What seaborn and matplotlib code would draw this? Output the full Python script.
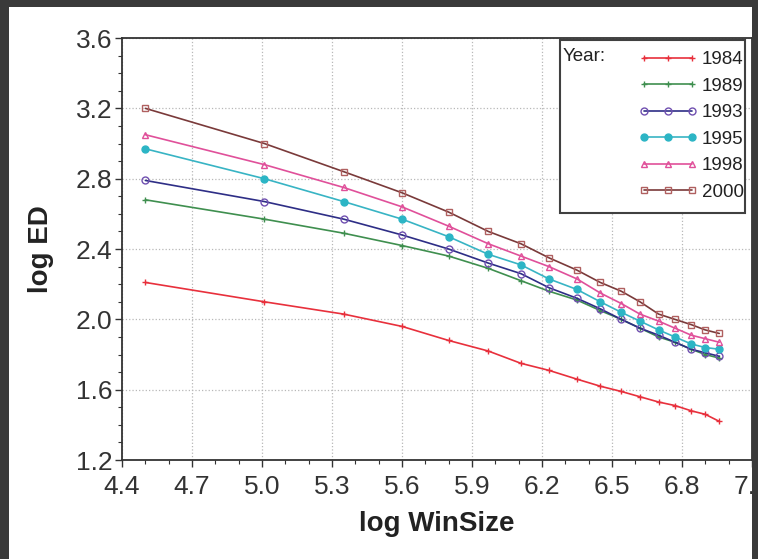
import numpy as np
import pandas as pd
import matplotlib
matplotlib.use("Agg")
import matplotlib.pyplot as plt
from matplotlib.patches import Rectangle
from matplotlib.lines import Line2D
from matplotlib.ticker import MultipleLocator, FormatStrFormatter
import seaborn as sns

sns.set_theme(style="ticks")
plt.rcParams['font.family'] = ['Liberation Sans', 'DejaVu Sans']

# log of window size (x) and log ED per year
log_winsize = [4.50, 5.01, 5.35, 5.60, 5.80, 5.97, 6.11, 6.23, 6.35,
               6.45, 6.54, 6.62, 6.70, 6.77, 6.84, 6.90, 6.96]
years = ["1984", "1989", "1993", "1995", "1998", "2000"]
ed_1984 = [2.21, 2.10, 2.03, 1.96, 1.88, 1.82, 1.75, 1.71, 1.66, 1.62, 1.59, 1.56, 1.53, 1.51, 1.48, 1.46, 1.42]
ed_1989 = [2.68, 2.57, 2.49, 2.42, 2.36, 2.29, 2.22, 2.16, 2.11, 2.05, 2.00, 1.95, 1.90, 1.87, 1.83, 1.80, 1.78]
ed_1993 = [2.79, 2.67, 2.57, 2.48, 2.40, 2.32, 2.26, 2.18, 2.12, 2.06, 2.00, 1.95, 1.91, 1.87, 1.83, 1.81, 1.79]
ed_1995 = [2.97, 2.80, 2.67, 2.57, 2.47, 2.37, 2.31, 2.23, 2.17, 2.10, 2.04, 1.99, 1.94, 1.90, 1.86, 1.84, 1.83]
ed_1998 = [3.05, 2.88, 2.75, 2.64, 2.53, 2.43, 2.36, 2.30, 2.23, 2.15, 2.09, 2.03, 1.99, 1.95, 1.91, 1.89, 1.87]
ed_2000 = [3.20, 3.00, 2.84, 2.72, 2.61, 2.50, 2.43, 2.35, 2.28, 2.21, 2.16, 2.10, 2.03, 2.00, 1.97, 1.94, 1.92]
series = [ed_1984, ed_1989, ed_1993, ed_1995, ed_1998, ed_2000]

x_ticks = [4.4, 4.7, 5.0, 5.3, 5.6, 5.9, 6.2, 6.5, 6.8, 7.1]
y_ticks = [1.2, 1.6, 2.0, 2.4, 2.8, 3.2, 3.6]

# line colour, marker, marker edge, marker face
styles = {
    "1984": ("#e8303c", "+", "#e8303c", "#e8303c"),
    "1989": ("#3f8f4f", "+", "#3f8f4f", "#3f8f4f"),
    "1993": ("#2e2e86", "o", "#7050b0", "none"),
    "1995": ("#38b4c4", "o", "#2cb5c5", "#2cb5c5"),
    "1998": ("#e0509a", "^", "#e0509a", "none"),
    "2000": ("#7a3a3a", "s", "#b06060", "none"),
}

df = pd.DataFrame({
    "log WinSize": np.tile(log_winsize, len(years)),
    "log ED": np.concatenate(series),
    "Year": np.repeat(years, len(log_winsize)),
})

fig, ax = plt.subplots(figsize=(7.58, 5.59), dpi=100)
fig.patch.set_facecolor("#3a3a3a")
fig.patches.append(Rectangle((9 / 758, 0), (752 - 9) / 758, 1 - 7 / 559,
                             transform=fig.transFigure, facecolor="white",
                             edgecolor="none", zorder=-10))
fig.subplots_adjust(left=0.161, right=0.992, bottom=0.177, top=0.932)

handles = []
for yr in years:
    lc, mk, mec, mfc = styles[yr]
    sub = df[df["Year"] == yr]
    sns.lineplot(data=sub, x="log WinSize", y="log ED", ax=ax, color=lc,
                 marker=mk, markersize=5, markeredgecolor=mec,
                 markerfacecolor=mfc, markeredgewidth=1.0, linewidth=1.2,
                 legend=False)
    handles.append(Line2D([], [], color=lc, marker=mk, markersize=5,
                          markeredgecolor=mec, markerfacecolor=mfc,
                          markeredgewidth=1.0, linewidth=1.2))

ax.set_xlim(4.4, 7.1)
ax.set_ylim(1.2, 3.6)
ax.set_xticks(x_ticks)
ax.set_yticks(y_ticks)
ax.xaxis.set_minor_locator(MultipleLocator(0.1))
ax.yaxis.set_minor_locator(MultipleLocator(0.1))
ax.xaxis.set_major_formatter(FormatStrFormatter("%.1f"))
ax.yaxis.set_major_formatter(FormatStrFormatter("%.1f"))
ax.grid(True, which="major", linestyle=":", color="#b8b8b8", linewidth=0.9)

ax.tick_params(which="major", direction="out", length=5, width=1,
               color="#333333", labelsize=19, labelcolor="#333333")
ax.tick_params(axis="x", which="major", pad=6)
ax.tick_params(axis="y", which="major", pad=2)
ax.tick_params(which="minor", direction="out", length=3, width=0.8, color="#333333")
for sp in ax.spines.values():
    sp.set_color("#333333")
    sp.set_linewidth(1.3)
    sp.set_visible(True)

ax.set_xlabel("log WinSize", fontsize=20, fontweight="bold", color="#222222")
ax.set_ylabel("log ED", fontsize=20, fontweight="bold", color="#222222")
ax.xaxis.set_label_coords(0.5, -0.12)
ax.yaxis.set_label_coords(-0.108, 0.5)

# legend with "Year:" header on the first row
ax.add_patch(Rectangle((0.695, 0.585), 0.294, 0.41, transform=ax.transAxes,
                       facecolor="white", edgecolor="#404040", linewidth=1.5,
                       zorder=5))
leg = ax.legend(handles, years, loc="upper right", bbox_to_anchor=(0.993, 0.978),
                frameon=False, fontsize=13.5, numpoints=3, handlelength=3.2,
                handletextpad=0.2, labelspacing=0.5, borderpad=0.2,
                borderaxespad=0)
leg.set_zorder(6)
for t in leg.get_texts():
    t.set_color("#222222")
ax.text(0.70, 0.957, "Year:", transform=ax.transAxes, fontsize=13.5,
        color="#222222", va="center", ha="left", zorder=7)

# dark frame strip on the right edge
fig.patches.append(Rectangle((752 / 758, 0), 6 / 758, 1, transform=fig.transFigure,
                             facecolor="#3a3a3a", edgecolor="none", zorder=10))

fig.savefig("out.png", dpi=100, facecolor=fig.get_facecolor())
